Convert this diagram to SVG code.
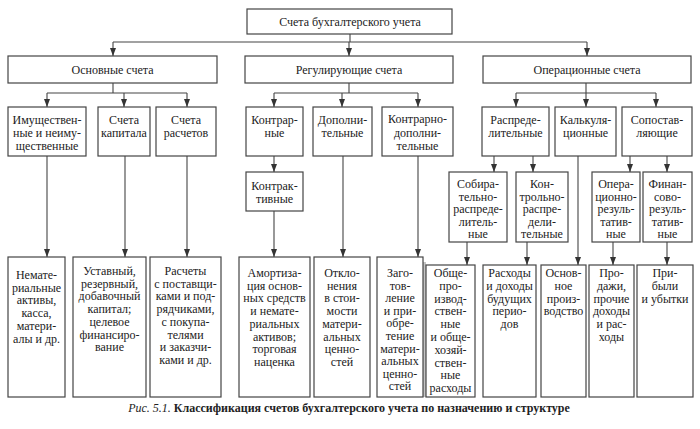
<svg xmlns="http://www.w3.org/2000/svg" width="700" height="429" viewBox="0 0 700 429">
<defs>
<marker id="ah" viewBox="0 0 6 8" refX="3" refY="8" markerWidth="6" markerHeight="8" orient="0" markerUnits="userSpaceOnUse">
<path d="M0,0 L6,0 L3,8 z" fill="#333"/>
</marker>
<style>
rect.b{fill:#fff;stroke:#444;stroke-width:1.2}
text{font-family:"Liberation Serif","DejaVu Serif",serif;font-size:12px;fill:#222;text-anchor:middle}
.c path{fill:none;stroke:#444;stroke-width:1.1}
.c path.a{marker-end:url(#ah)}
.cap{font-size:12px}
</style>
</defs>
<rect width="700" height="429" fill="#fff"/>
<rect x="423" y="262" width="3" height="135" fill="#c4c4c4"/>

<g class="c" id="connectors">
<path d="M350,34 V42 M113,42 H587"/>
<path class="a" d="M113,42 V56"/>
<path class="a" d="M349,42 V56"/>
<path class="a" d="M587,42 V56"/>
<path d="M113,83 V93 M47,93 H187"/>
<path class="a" d="M47,93 V107"/>
<path class="a" d="M124,93 V107"/>
<path class="a" d="M187,93 V107"/>
<path d="M349,83 V93 M274,93 H418"/>
<path class="a" d="M274,93 V107"/>
<path class="a" d="M342,93 V107"/>
<path class="a" d="M418,93 V107"/>
<path d="M586,83 V93 M516,93 H656"/>
<path class="a" d="M516,93 V107"/>
<path class="a" d="M586,93 V107"/>
<path class="a" d="M656,93 V107"/>
<path class="a" d="M47,156 V257"/>
<path class="a" d="M125,156 V257"/>
<path class="a" d="M187,156 V257"/>
<path class="a" d="M274,156 V172"/>
<path class="a" d="M274,211 V257"/>
<path class="a" d="M343,156 V257"/>
<path class="a" d="M418,156 V257"/>
<path class="a" d="M494,156 V172"/>
<path class="a" d="M533,156 V172"/>
<path class="a" d="M578,156 V265"/>
<path class="a" d="M630,156 V172"/>
<path class="a" d="M667,156 V172"/>
<path class="a" d="M467,242 V265"/>
<path class="a" d="M527,242 V265"/>
<path class="a" d="M613,242 V265"/>
<path class="a" d="M667,242 V265"/>
</g>

<g id="root"><rect class="b" x="247" y="9" width="205" height="25"/><text x="350" y="26">Счета бухгалтерского учета</text></g>

<g id="osnovnye"><rect class="b" x="8" y="56" width="209" height="27"/><text x="112.5" y="74">Основные счета</text></g>
<g id="reguliruyushchie"><rect class="b" x="245" y="56" width="208" height="27"/><text x="349" y="74">Регулирующие счета</text></g>
<g id="operatsionnye"><rect class="b" x="483" y="56" width="208" height="27"/><text x="587" y="74">Операционные счета</text></g>

<g id="imushchestvennye"><rect class="b" x="8" y="107" width="78" height="49"/><text x="47" y="124">Имуществен-<tspan x="47" dy="13">ные и  неиму-</tspan><tspan x="47" dy="13">щественные</tspan></text></g>
<g id="kapitala"><rect class="b" x="98" y="107" width="52" height="49"/><text x="124" y="124">Счета<tspan x="124" dy="13">капитала</tspan></text></g>
<g id="raschetov"><rect class="b" x="156" y="107" width="60" height="49"/><text x="186" y="124">Счета<tspan x="186" dy="13">расчетов</tspan></text></g>
<g id="kontrarnye"><rect class="b" x="246" y="107" width="57" height="49"/><text x="274.5" y="124">Контрар-<tspan x="274.5" dy="13">ные</tspan></text></g>
<g id="dopolnitelnye"><rect class="b" x="313" y="107" width="59" height="49"/><text x="342.5" y="124">Дополни-<tspan x="342.5" dy="13">тельные</tspan></text></g>
<g id="kontrarno-dop"><rect class="b" x="382" y="107" width="71" height="49"/><text x="417.5" y="123">Контрарно-<tspan x="417.5" dy="13.5">дополни-</tspan><tspan x="417.5" dy="13.5">тельные</tspan></text></g>
<g id="raspredelitelnye"><rect class="b" x="482" y="107" width="67" height="49"/><text x="515.5" y="124">Распреде-<tspan x="515.5" dy="13">лительные</tspan></text></g>
<g id="kalkulyatsionnye"><rect class="b" x="555" y="107" width="61" height="49"/><text x="585.5" y="124">Калькуля-<tspan x="585.5" dy="13">ционные</tspan></text></g>
<g id="sopostavlyayushchie"><rect class="b" x="622" y="107" width="70" height="49"/><text x="657" y="124">Сопостав-<tspan x="657" dy="13">ляющие</tspan></text></g>

<g id="kontraktivnye"><rect class="b" x="246" y="172" width="57" height="39"/><text x="274.5" y="190">Контрак-<tspan x="274.5" dy="13">тивные</tspan></text></g>

<g id="sobiratelno"><rect class="b" x="449" y="172" width="58" height="70"/><text x="478" y="188">Собира-<tspan x="478" dy="12.5">тельно-</tspan><tspan x="478" dy="12.5">распреде-</tspan><tspan x="478" dy="12.5">литель-</tspan><tspan x="478" dy="12.5">ные</tspan></text></g>
<g id="kontrolno"><rect class="b" x="516" y="172" width="52" height="70"/><text x="542" y="188">Кон-<tspan x="542" dy="12.5">трольно-</tspan><tspan x="542" dy="12.5">распре-</tspan><tspan x="542" dy="12.5">дели-</tspan><tspan x="542" dy="12.5">тельные</tspan></text></g>
<g id="operatsionno"><rect class="b" x="592" y="172" width="48" height="70"/><text x="616" y="188">Опера-<tspan x="616" dy="12.5">ционно-</tspan><tspan x="616" dy="12.5">резуль-</tspan><tspan x="616" dy="12.5">татив-</tspan><tspan x="616" dy="12.5">ные</tspan></text></g>
<g id="finansovo"><rect class="b" x="643" y="172" width="49" height="70"/><text x="667.5" y="188">Финан-<tspan x="667.5" dy="12.5">сово-</tspan><tspan x="667.5" dy="12.5">резуль-</tspan><tspan x="667.5" dy="12.5">татив-</tspan><tspan x="667.5" dy="12.5">ные</tspan></text></g>

<g id="nemat"><rect class="b" x="8" y="257" width="57" height="140"/><text x="36.5" y="279">Немате-<tspan x="36.5" dy="12.7">риальные</tspan><tspan x="36.5" dy="12.7">активы,</tspan><tspan x="36.5" dy="12.7">касса,</tspan><tspan x="36.5" dy="12.7">матери-</tspan><tspan x="36.5" dy="12.7">алы и др.</tspan></text></g>
<g id="ustavny"><rect class="b" x="73" y="257" width="73" height="140"/><text x="109.5" y="275">Уставный,<tspan x="109.5" dy="12.7">резервный,</tspan><tspan x="109.5" dy="12.7">добавочный</tspan><tspan x="109.5" dy="12.7">капитал;</tspan><tspan x="109.5" dy="12.7">целевое</tspan><tspan x="109.5" dy="12.7">финансиро-</tspan><tspan x="109.5" dy="12.7">вание</tspan></text></g>
<g id="raschety"><rect class="b" x="150" y="257" width="71" height="140"/><text x="185.5" y="275">Расчеты<tspan x="185.5" dy="12.7">с поставщи-</tspan><tspan x="185.5" dy="12.7">ками и под-</tspan><tspan x="185.5" dy="12.7">рядчиками,</tspan><tspan x="185.5" dy="12.7">с покупа-</tspan><tspan x="185.5" dy="12.7">телями</tspan><tspan x="185.5" dy="12.7">и заказчи-</tspan><tspan x="185.5" dy="12.7">ками и др.</tspan></text></g>
<g id="amortizatsiya"><rect class="b" x="239" y="257" width="71" height="140"/><text x="274.5" y="277">Амортиза-<tspan x="274.5" dy="12.7">ция основ-</tspan><tspan x="274.5" dy="12.7">ных средств</tspan><tspan x="274.5" dy="12.7">и немате-</tspan><tspan x="274.5" dy="12.7">риальных</tspan><tspan x="274.5" dy="12.7">активов;</tspan><tspan x="274.5" dy="12.7">торговая</tspan><tspan x="274.5" dy="12.7">наценка</tspan></text></g>
<g id="otkloneniya"><rect class="b" x="314" y="257" width="56" height="140"/><text x="342" y="277">Откло-<tspan x="342" dy="12.7">нения</tspan><tspan x="342" dy="12.7">в стои-</tspan><tspan x="342" dy="12.7">мости</tspan><tspan x="342" dy="12.7">матери-</tspan><tspan x="342" dy="12.7">альных</tspan><tspan x="342" dy="12.7">ценно-</tspan><tspan x="342" dy="12.7">стей</tspan></text></g>
<g id="zagotovlenie"><rect class="b" x="377" y="257" width="46" height="140"/><text x="400" y="277">Заго-<tspan x="400" dy="12.6">тов-</tspan><tspan x="400" dy="12.6">ление</tspan><tspan x="400" dy="12.6">и при-</tspan><tspan x="400" dy="12.6">обре-</tspan><tspan x="400" dy="12.6">тение</tspan><tspan x="400" dy="12.6">матери-</tspan><tspan x="400" dy="12.6">альных</tspan><tspan x="400" dy="12.6">ценно-</tspan><tspan x="400" dy="12.6">стей</tspan></text></g>
<g id="obshche"><rect class="b" x="426" y="265" width="49" height="132"/><text x="450.5" y="277">Обще-<tspan x="450.5" dy="12.8">про-</tspan><tspan x="450.5" dy="12.8">извод-</tspan><tspan x="450.5" dy="12.8">ствен-</tspan><tspan x="450.5" dy="12.8">ные</tspan><tspan x="450.5" dy="12.8">и обще-</tspan><tspan x="450.5" dy="12.8">хозяй-</tspan><tspan x="450.5" dy="12.8">ствен-</tspan><tspan x="450.5" dy="12.8">ные</tspan><tspan x="450.5" dy="12.8">расходы</tspan></text></g>
<g id="raskhody"><rect class="b" x="483" y="265" width="53" height="132"/><text x="509.5" y="277">Расходы<tspan x="509.5" dy="12.8">и доходы</tspan><tspan x="509.5" dy="12.8">будущих</tspan><tspan x="509.5" dy="12.8">перио-</tspan><tspan x="509.5" dy="12.8">дов</tspan></text></g>
<g id="osnovnoe"><rect class="b" x="541" y="265" width="45" height="132"/><text x="563.5" y="277">Основ-<tspan x="563.5" dy="12.8">ное</tspan><tspan x="563.5" dy="12.8">произ-</tspan><tspan x="563.5" dy="12.8">водство</tspan></text></g>
<g id="prodazhi"><rect class="b" x="589" y="265" width="45" height="132"/><text x="611.5" y="277">Про-<tspan x="611.5" dy="12.8">дажи,</tspan><tspan x="611.5" dy="12.8">прочие</tspan><tspan x="611.5" dy="12.8">доходы</tspan><tspan x="611.5" dy="12.8">и рас-</tspan><tspan x="611.5" dy="12.8">ходы</tspan></text></g>
<g id="pribyli"><rect class="b" x="637" y="265" width="56" height="132"/><text x="665" y="277">При-<tspan x="665" dy="12.8">были</tspan><tspan x="665" dy="12.8">и убытки</tspan></text></g>

<text class="cap" x="349" y="412"><tspan font-style="italic">Рис. 5.1.</tspan> <tspan font-weight="bold">Классификация счетов бухгалтерского учета по назначению и структуре</tspan></text>
</svg>
